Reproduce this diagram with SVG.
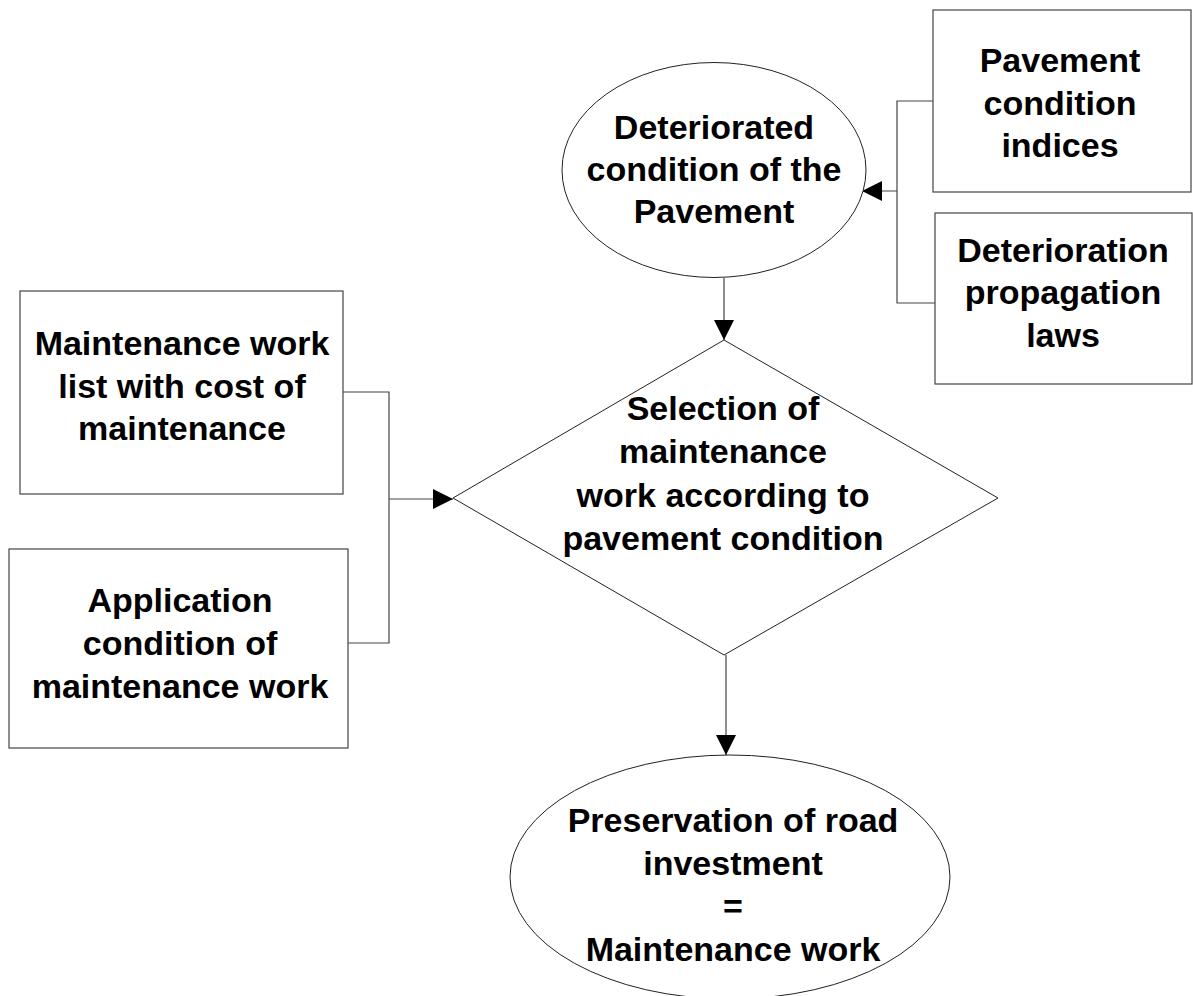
<svg xmlns="http://www.w3.org/2000/svg" width="1193" height="996" viewBox="0 0 1193 996">
  <style>
    .shape { fill: #ffffff; stroke: #222222; stroke-width: 1; }
    .box { fill: #ffffff; stroke: #444444; stroke-width: 1.2; }
    .wire { fill: none; stroke: #444444; stroke-width: 1.2; }
    .label { font-family: "Liberation Sans", Arial, sans-serif; font-weight: bold; font-size: 34px; fill: #000000; text-anchor: middle; }
  </style>
  <defs>
    <marker id="arrow" viewBox="0 0 20 20" refX="20" refY="10" markerWidth="20" markerHeight="20" markerUnits="userSpaceOnUse" orient="auto">
      <path d="M0,0 L20,10 L0,20 Z" fill="#000000"/>
    </marker>
  </defs>
  <rect width="1193" height="996" fill="#ffffff"/>

  <g id="connectors">
    <!-- inputs feeding the pavement condition ellipse -->
    <polyline class="wire" points="933,101 897,101 897,303 935,303"/>
    <line class="wire" x1="897" y1="191" x2="862" y2="191" marker-end="url(#arrow)"/>
    <!-- pavement condition to selection -->
    <line class="wire" x1="724" y1="278" x2="724" y2="340" marker-end="url(#arrow)"/>
    <!-- maintenance inputs feeding the selection diamond -->
    <polyline class="wire" points="343,392 389,392 389,643 348,643"/>
    <line class="wire" x1="389" y1="499" x2="453" y2="499" marker-end="url(#arrow)"/>
    <!-- selection to result -->
    <line class="wire" x1="726" y1="655" x2="726" y2="755" marker-end="url(#arrow)"/>
  </g>

  <g id="pavement-indices">
    <rect class="box" x="933" y="10" width="258" height="182"/>
    <text class="label" x="1060" y="72">Pavement</text>
    <text class="label" x="1060" y="115">condition</text>
    <text class="label" x="1060" y="157">indices</text>
  </g>

  <g id="deterioration-laws">
    <rect class="box" x="935" y="213" width="257" height="171"/>
    <text class="label" x="1063" y="262">Deterioration</text>
    <text class="label" x="1063" y="304">propagation</text>
    <text class="label" x="1063" y="347">laws</text>
  </g>

  <g id="deteriorated-condition">
    <ellipse class="shape" cx="714" cy="170" rx="152" ry="107.5"/>
    <text class="label" x="714" y="139">Deteriorated</text>
    <text class="label" x="714" y="181">condition of the</text>
    <text class="label" x="714" y="223">Pavement</text>
  </g>

  <g id="work-list">
    <rect class="box" x="20" y="291" width="323" height="203"/>
    <text class="label" x="182" y="355">Maintenance work</text>
    <text class="label" x="182" y="398">list with cost of</text>
    <text class="label" x="182" y="440">maintenance</text>
  </g>

  <g id="application-condition">
    <rect class="box" x="9" y="549" width="339" height="199"/>
    <text class="label" x="180" y="612">Application</text>
    <text class="label" x="180" y="655">condition of</text>
    <text class="label" x="180" y="698">maintenance work</text>
  </g>

  <g id="selection">
    <polygon class="shape" points="453,498 724,340 998,498 724,655"/>
    <text class="label" x="723" y="420">Selection of</text>
    <text class="label" x="723" y="463">maintenance</text>
    <text class="label" x="723" y="507">work according to</text>
    <text class="label" x="723" y="550">pavement condition</text>
  </g>

  <g id="preservation">
    <ellipse class="shape" cx="730" cy="877" rx="220" ry="122"/>
    <text class="label" x="733" y="832">Preservation of road</text>
    <text class="label" x="733" y="875">investment</text>
    <text class="label" x="733" y="918">=</text>
    <text class="label" x="733" y="961">Maintenance work</text>
  </g>
</svg>
